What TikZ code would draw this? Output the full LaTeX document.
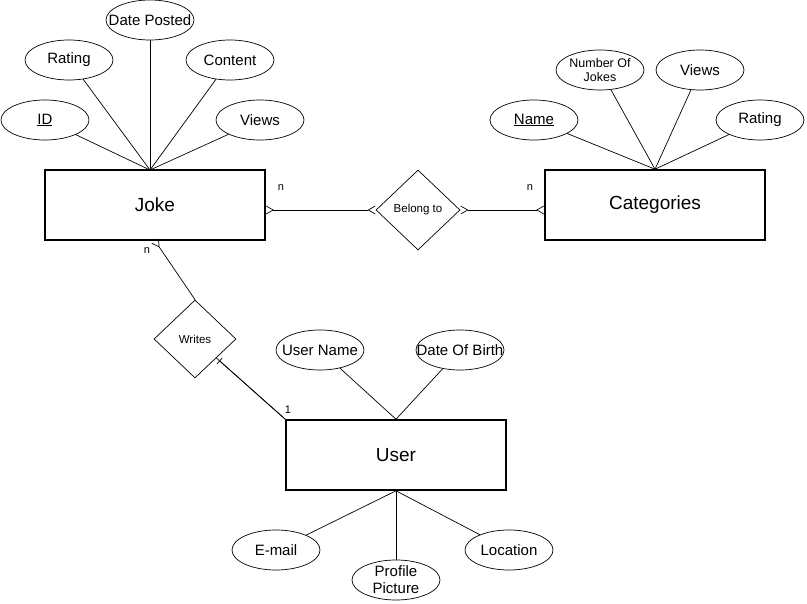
\documentclass[tikz,border=0pt]{standalone}
\usepackage{fontspec}
\setmainfont{Liberation Sans}
\usetikzlibrary{shapes.geometric,arrows.meta}

\begin{document}
\begin{tikzpicture}[x=1pt,y=-1pt,
    entity/.style={draw,line width=1.6pt,minimum width=220pt,minimum height=70pt,font=\fontsize{19}{22}\selectfont},
    attrib/.style={draw,ellipse,line width=0.7pt,minimum width=88pt,minimum height=40pt,inner xsep=-15pt,inner ysep=-6pt,font=\fontsize{15}{17}\selectfont,align=center},
    relation/.style={draw,diamond,line width=0.7pt,minimum width=84pt,minimum height=80pt,inner sep=0pt,font=\fontsize{11.5}{13}\selectfont},
    card/.style={font=\fontsize{11}{13}\selectfont,inner sep=0pt},
    link/.style={line width=0.7pt},
    crow/.tip={Straight Barb[reversed,length=7pt,width=8pt]}]
    \useasboundingbox (0,0) rectangle (807,604);

    % entities
    \node[entity] (joke) at (155,205) {Joke};
    \node[entity] (categories) at (655,205) {Categories};
    \node[entity] (user) at (396,455) {User};

    % relationships
    \node[relation] (belong) at (418,210) {Belong to};
    \node[relation,minimum width=82pt,minimum height=78pt] (writes) at (195,339) {Writes};

    % attributes of Joke
    \node[attrib] (jid) at (45,120) {\underline{ID}};
    \node[attrib] (jrating) at (69,60) {Rating};
    \node[attrib] (jdate) at (150,20) {Date Posted};
    \node[attrib] (jcontent) at (230,60) {Content};
    \node[attrib] (jviews) at (260,120) {Views};

    % attributes of Categories
    \node[attrib] (cname) at (534,120) {\underline{Name}};
    \node[attrib,font=\fontsize{12.5}{14}\selectfont] (cnumber) at (600,70) {Number Of\\Jokes};
    \node[attrib] (cviews) at (700,70) {Views};
    \node[attrib] (crating) at (760,120) {Rating};

    % attributes of User
    \node[attrib] (uname) at (320,350) {User Name};
    \node[attrib] (udob) at (460,350) {Date Of Birth};
    \node[attrib] (uemail) at (276,550) {E-mail};
    \node[attrib] (upicture) at (396,580) {Profile\\Picture};
    \node[attrib] (ulocation) at (509,550) {Location};

    \coordinate (jtop) at (150,170);
    \foreach \a in {jid,jrating,jdate,jcontent,jviews}
        \draw[link] (\a) -- (jtop);
    \foreach \a in {cname,cnumber,cviews,crating}
        \draw[link] (\a) -- (categories.north);
    \foreach \a in {uname,udob}
        \draw[link] (\a) -- (user.north);
    \foreach \a in {uemail,upicture,ulocation}
        \draw[link] (\a) -- (user.south);

    % relationship lines
    \draw[link,crow-crow] (joke.east |- belong) -- (belong.west);
    \draw[link,crow-crow] (belong.east) -- (belong.east -| categories.west);
    \draw[link,crow-] (joke.south) -- (writes.north);
    \draw[link] (writes) -- (user.north west);
    \draw[link,shorten <=4pt,{Bar[width=8pt]}-] (writes) -- (user.north west);

    % cardinalities
    \node[card] (cardjb) at (281,188) {n};
    \node[card] (cardcb) at (530,188) {n};
    \node[card] (cardjw) at (147,251) {n};
    \node[card] (carduw) at (288,410) {1};
\end{tikzpicture}
\end{document}
